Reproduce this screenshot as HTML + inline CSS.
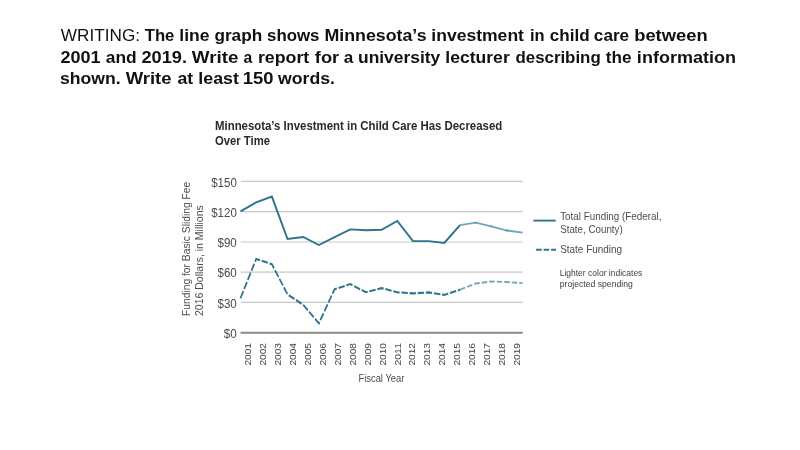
<!DOCTYPE html><html><head><meta charset="utf-8"><style>html,body{margin:0;padding:0;background:#fff;width:800px;height:450px;overflow:hidden}svg{display:block;filter:blur(0.35px)}text{font-family:"Liberation Sans",sans-serif}</style></head><body>
<svg width="800" height="450" viewBox="0 0 800 450">
<rect width="800" height="450" fill="#fff"/>
<text x="60.81" y="40.6" font-size="16.6" fill="#111" textLength="79.24" lengthAdjust="spacingAndGlyphs">WRITING:</text>
<text x="144.72" y="40.6" font-size="16.6" fill="#111" font-weight="bold" textLength="29.68" lengthAdjust="spacingAndGlyphs">The</text>
<text x="179.33" y="40.6" font-size="16.6" fill="#111" font-weight="bold" textLength="30.21" lengthAdjust="spacingAndGlyphs">line</text>
<text x="214.42" y="40.6" font-size="16.6" fill="#111" font-weight="bold" textLength="47.75" lengthAdjust="spacingAndGlyphs">graph</text>
<text x="267.02" y="40.6" font-size="16.6" fill="#111" font-weight="bold" textLength="52.42" lengthAdjust="spacingAndGlyphs">shows</text>
<text x="324.41" y="40.6" font-size="16.6" fill="#111" font-weight="bold" textLength="102.12" lengthAdjust="spacingAndGlyphs">Minnesota’s</text>
<text x="431.32" y="40.6" font-size="16.6" fill="#111" font-weight="bold" textLength="92.63" lengthAdjust="spacingAndGlyphs">investment</text>
<text x="530.00" y="40.6" font-size="16.6" fill="#111" font-weight="bold" textLength="14.62" lengthAdjust="spacingAndGlyphs">in</text>
<text x="549.89" y="40.6" font-size="16.6" fill="#111" font-weight="bold" textLength="39.78" lengthAdjust="spacingAndGlyphs">child</text>
<text x="593.89" y="40.6" font-size="16.6" fill="#111" font-weight="bold" textLength="35.29" lengthAdjust="spacingAndGlyphs">care</text>
<text x="634.18" y="40.6" font-size="16.6" fill="#111" font-weight="bold" textLength="73.43" lengthAdjust="spacingAndGlyphs">between</text>
<text x="60.46" y="62.6" font-size="16.6" fill="#111" font-weight="bold" textLength="40.08" lengthAdjust="spacingAndGlyphs">2001</text>
<text x="105.83" y="62.6" font-size="16.6" fill="#111" font-weight="bold" textLength="30.86" lengthAdjust="spacingAndGlyphs">and</text>
<text x="141.47" y="62.6" font-size="16.6" fill="#111" font-weight="bold" textLength="45.57" lengthAdjust="spacingAndGlyphs">2019.</text>
<text x="191.85" y="62.6" font-size="16.6" fill="#111" font-weight="bold" textLength="46.63" lengthAdjust="spacingAndGlyphs">Write</text>
<text x="243.50" y="62.6" font-size="16.6" fill="#111" font-weight="bold" textLength="8.73" lengthAdjust="spacingAndGlyphs">a</text>
<text x="257.92" y="62.6" font-size="16.6" fill="#111" font-weight="bold" textLength="51.37" lengthAdjust="spacingAndGlyphs">report</text>
<text x="314.82" y="62.6" font-size="16.6" fill="#111" font-weight="bold" textLength="24.39" lengthAdjust="spacingAndGlyphs">for</text>
<text x="343.83" y="62.6" font-size="16.6" fill="#111" font-weight="bold" textLength="9.52" lengthAdjust="spacingAndGlyphs">a</text>
<text x="358.00" y="62.6" font-size="16.6" fill="#111" font-weight="bold" textLength="82.24" lengthAdjust="spacingAndGlyphs">university</text>
<text x="445.34" y="62.6" font-size="16.6" fill="#111" font-weight="bold" textLength="64.38" lengthAdjust="spacingAndGlyphs">lecturer</text>
<text x="515.46" y="62.6" font-size="16.6" fill="#111" font-weight="bold" textLength="85.26" lengthAdjust="spacingAndGlyphs">describing</text>
<text x="605.75" y="62.6" font-size="16.6" fill="#111" font-weight="bold" textLength="25.66" lengthAdjust="spacingAndGlyphs">the</text>
<text x="636.88" y="62.6" font-size="16.6" fill="#111" font-weight="bold" textLength="99.13" lengthAdjust="spacingAndGlyphs">information</text>
<text x="59.91" y="84.2" font-size="16.6" fill="#111" font-weight="bold" textLength="60.65" lengthAdjust="spacingAndGlyphs">shown.</text>
<text x="125.74" y="84.2" font-size="16.6" fill="#111" font-weight="bold" textLength="45.80" lengthAdjust="spacingAndGlyphs">Write</text>
<text x="177.49" y="84.2" font-size="16.6" fill="#111" font-weight="bold" textLength="15.77" lengthAdjust="spacingAndGlyphs">at</text>
<text x="198.32" y="84.2" font-size="16.6" fill="#111" font-weight="bold" textLength="40.51" lengthAdjust="spacingAndGlyphs">least</text>
<text x="242.76" y="84.2" font-size="16.6" fill="#111" font-weight="bold" textLength="30.69" lengthAdjust="spacingAndGlyphs">150</text>
<text x="278.07" y="84.2" font-size="16.6" fill="#111" font-weight="bold" textLength="56.97" lengthAdjust="spacingAndGlyphs">words.</text>
<text x="215" y="129.7" font-size="12.2" fill="#2a2a2a" font-weight="bold" textLength="287.2" lengthAdjust="spacingAndGlyphs">Minnesota’s Investment in Child Care Has Decreased</text>
<text x="215" y="144.7" font-size="12.2" fill="#2a2a2a" font-weight="bold" textLength="55" lengthAdjust="spacingAndGlyphs">Over Time</text>
<line x1="240.8" y1="181.4" x2="522.8" y2="181.4" stroke="#c8c8c8" stroke-width="1.2"/>
<line x1="240.8" y1="211.6" x2="522.8" y2="211.6" stroke="#c8c8c8" stroke-width="1.2"/>
<line x1="240.8" y1="242.0" x2="522.8" y2="242.0" stroke="#c8c8c8" stroke-width="1.2"/>
<line x1="240.8" y1="272.2" x2="522.8" y2="272.2" stroke="#c8c8c8" stroke-width="1.2"/>
<line x1="240.8" y1="302.4" x2="522.8" y2="302.4" stroke="#c8c8c8" stroke-width="1.2"/>
<line x1="240.5" y1="332.8" x2="522.8" y2="332.8" stroke="#8a8a8a" stroke-width="2"/>
<text x="236.8" y="186.5" font-size="12.1" fill="#4a4a4a" text-anchor="end" textLength="25.6" lengthAdjust="spacingAndGlyphs">$150</text>
<text x="236.8" y="216.7" font-size="12.1" fill="#4a4a4a" text-anchor="end" textLength="25.6" lengthAdjust="spacingAndGlyphs">$120</text>
<text x="236.8" y="247.1" font-size="12.1" fill="#4a4a4a" text-anchor="end" textLength="19.3" lengthAdjust="spacingAndGlyphs">$90</text>
<text x="236.8" y="277.3" font-size="12.1" fill="#4a4a4a" text-anchor="end" textLength="19.3" lengthAdjust="spacingAndGlyphs">$60</text>
<text x="236.8" y="307.5" font-size="12.1" fill="#4a4a4a" text-anchor="end" textLength="19.3" lengthAdjust="spacingAndGlyphs">$30</text>
<text x="236.8" y="337.9" font-size="12.1" fill="#4a4a4a" text-anchor="end" textLength="13.0" lengthAdjust="spacingAndGlyphs">$0</text>
<text transform="translate(251.10,365.6) rotate(-90)" font-size="9.8" fill="#444" textLength="22.6" lengthAdjust="spacingAndGlyphs">2001</text>
<text transform="translate(266.04,365.6) rotate(-90)" font-size="9.8" fill="#444" textLength="22.6" lengthAdjust="spacingAndGlyphs">2002</text>
<text transform="translate(280.99,365.6) rotate(-90)" font-size="9.8" fill="#444" textLength="22.6" lengthAdjust="spacingAndGlyphs">2003</text>
<text transform="translate(295.93,365.6) rotate(-90)" font-size="9.8" fill="#444" textLength="22.6" lengthAdjust="spacingAndGlyphs">2004</text>
<text transform="translate(310.88,365.6) rotate(-90)" font-size="9.8" fill="#444" textLength="22.6" lengthAdjust="spacingAndGlyphs">2005</text>
<text transform="translate(325.82,365.6) rotate(-90)" font-size="9.8" fill="#444" textLength="22.6" lengthAdjust="spacingAndGlyphs">2006</text>
<text transform="translate(340.77,365.6) rotate(-90)" font-size="9.8" fill="#444" textLength="22.6" lengthAdjust="spacingAndGlyphs">2007</text>
<text transform="translate(355.71,365.6) rotate(-90)" font-size="9.8" fill="#444" textLength="22.6" lengthAdjust="spacingAndGlyphs">2008</text>
<text transform="translate(370.66,365.6) rotate(-90)" font-size="9.8" fill="#444" textLength="22.6" lengthAdjust="spacingAndGlyphs">2009</text>
<text transform="translate(385.60,365.6) rotate(-90)" font-size="9.8" fill="#444" textLength="22.6" lengthAdjust="spacingAndGlyphs">2010</text>
<text transform="translate(400.54,365.6) rotate(-90)" font-size="9.8" fill="#444" textLength="22.6" lengthAdjust="spacingAndGlyphs">2011</text>
<text transform="translate(415.49,365.6) rotate(-90)" font-size="9.8" fill="#444" textLength="22.6" lengthAdjust="spacingAndGlyphs">2012</text>
<text transform="translate(430.43,365.6) rotate(-90)" font-size="9.8" fill="#444" textLength="22.6" lengthAdjust="spacingAndGlyphs">2013</text>
<text transform="translate(445.38,365.6) rotate(-90)" font-size="9.8" fill="#444" textLength="22.6" lengthAdjust="spacingAndGlyphs">2014</text>
<text transform="translate(460.32,365.6) rotate(-90)" font-size="9.8" fill="#444" textLength="22.6" lengthAdjust="spacingAndGlyphs">2015</text>
<text transform="translate(475.27,365.6) rotate(-90)" font-size="9.8" fill="#444" textLength="22.6" lengthAdjust="spacingAndGlyphs">2016</text>
<text transform="translate(490.21,365.6) rotate(-90)" font-size="9.8" fill="#444" textLength="22.6" lengthAdjust="spacingAndGlyphs">2017</text>
<text transform="translate(505.16,365.6) rotate(-90)" font-size="9.8" fill="#444" textLength="22.6" lengthAdjust="spacingAndGlyphs">2018</text>
<text transform="translate(520.10,365.6) rotate(-90)" font-size="9.8" fill="#444" textLength="22.6" lengthAdjust="spacingAndGlyphs">2019</text>
<text x="358.5" y="381.9" font-size="10.3" fill="#4d4d4d" textLength="45.8" lengthAdjust="spacingAndGlyphs">Fiscal Year</text>
<text transform="translate(189.6,316) rotate(-90)" font-size="10.3" fill="#4d4d4d" textLength="134.2" lengthAdjust="spacingAndGlyphs">Funding for Basic Sliding Fee</text>
<text transform="translate(202.9,316) rotate(-90)" font-size="10.3" fill="#4d4d4d" textLength="110.8" lengthAdjust="spacingAndGlyphs">2016 Dollars, in Millions</text>
<polyline points="240.50,211.40 256.18,202.30 271.86,196.60 287.53,239.00 303.21,237.00 318.89,245.00 334.57,237.20 350.24,229.40 365.92,230.25 381.60,229.75 397.28,220.90 412.96,241.10 428.63,241.10 444.31,242.90 459.99,225.20" fill="none" stroke="#30748a" stroke-width="1.95" stroke-linejoin="miter"/>
<polyline points="459.99,225.20 475.67,222.70 491.34,226.40 507.02,230.50 522.70,232.70" fill="none" stroke="#72a6b5" stroke-width="1.8"/>
<circle cx="475.67" cy="222.7" r="0.9" fill="#4d8a9b"/>
<circle cx="491.34" cy="226.4" r="0.9" fill="#4d8a9b"/>
<circle cx="507.02" cy="230.5" r="0.9" fill="#4d8a9b"/>
<g transform="scale(0.8,1)">
<polyline points="300.62,298.20 320.22,258.90 339.82,264.20 359.42,294.40 379.01,304.80 398.61,323.30 418.21,289.20 437.81,284.10 457.40,292.25 477.00,288.10 496.60,292.25 516.19,293.40 535.79,292.40 555.39,294.90 574.99,289.70" fill="none" stroke="#30748a" stroke-width="2.1" stroke-dasharray="8 2.2"/>
<polyline points="574.99,289.70 594.58,283.50 614.18,281.50 633.78,282.00 653.38,283.10" fill="none" stroke="#72a6b5" stroke-width="1.9" stroke-dasharray="6.8 2.6"/>
</g>
<line x1="533.4" y1="220.6" x2="555.7" y2="220.6" stroke="#30748a" stroke-width="1.9"/>
<line x1="536.1" y1="249.8" x2="556" y2="249.8" stroke="#30748a" stroke-width="1.9" stroke-dasharray="5.6 1.9"/>
<text x="560.2" y="219.9" font-size="10.2" fill="#4d4d4d" textLength="101.2" lengthAdjust="spacingAndGlyphs">Total Funding (Federal,</text>
<text x="560.2" y="233.2" font-size="10.2" fill="#4d4d4d" textLength="62.5" lengthAdjust="spacingAndGlyphs">State, County)</text>
<text x="560.2" y="252.5" font-size="10.2" fill="#4d4d4d" textLength="61.9" lengthAdjust="spacingAndGlyphs">State Funding</text>
<text x="559.7" y="275.7" font-size="8.2" fill="#3d3d3d" textLength="82.7" lengthAdjust="spacingAndGlyphs">Lighter color indicates</text>
<text x="559.7" y="287.2" font-size="8.2" fill="#3d3d3d" textLength="73.2" lengthAdjust="spacingAndGlyphs">projected spending</text>
</svg></body></html>
